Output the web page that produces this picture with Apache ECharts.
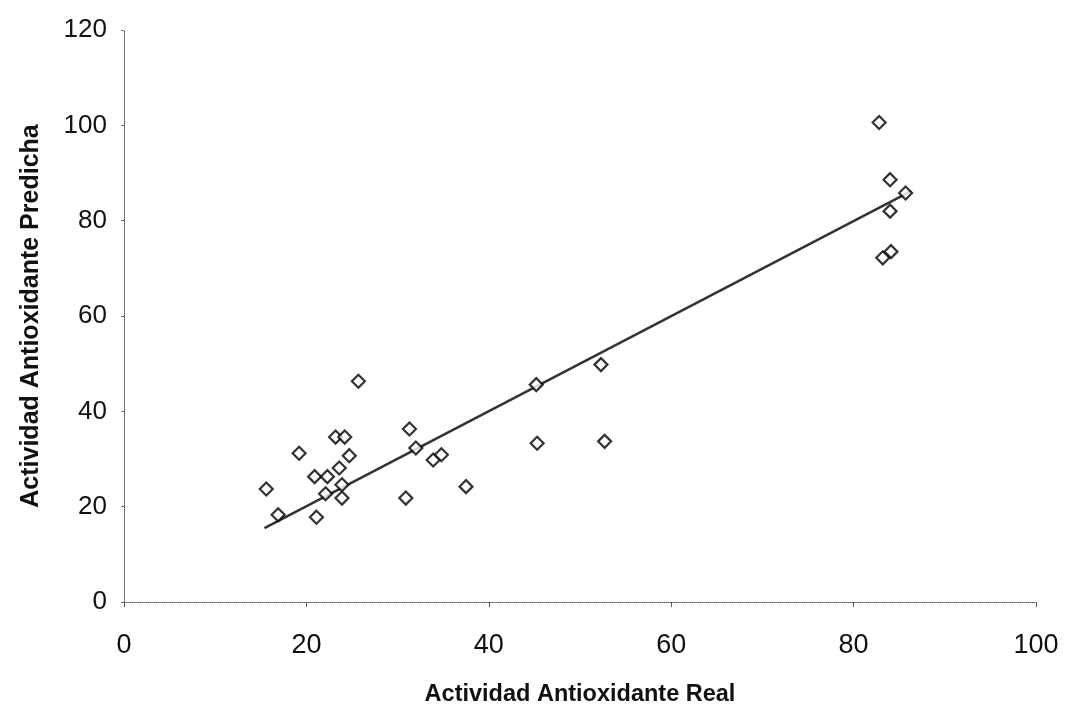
<!DOCTYPE html>
<html>
<head>
<meta charset="utf-8">
<script src="https://cdn.jsdelivr.net/npm/echarts@6/dist/echarts.min.js"></script>
<style>
  html, body { margin: 0; padding: 0; background: #fff; }
  #chart { width: 1068px; height: 708px; }
</style>
</head>
<body>
<div id="chart"></div>
<script>
// valores
var realValues = [25.7, 23.2, 24.2, 31.3, 19.2, 24.7, 33.9, 34.8, 20.9, 22.3,
  23.6, 15.6, 23.9, 23.9, 22.1, 30.9, 16.9, 21.1, 37.5, 45.2,
  45.3, 52.3, 52.7, 82.8, 84.0, 85.7, 84.0, 83.2, 84.1, 32.0]
var predictedValues = [46.3, 34.6, 34.6, 36.3, 31.2, 30.7, 29.8, 30.9, 26.3, 26.3,
  28.1, 23.7, 24.6, 21.8, 22.7, 21.8, 18.3, 17.8, 24.2, 45.6,
  33.3, 49.8, 33.7, 100.6, 88.6, 85.8, 82.0, 72.2, 73.5, 32.3]
var fitX = [15.4, 86.3]
var fitY = [15.5, 86.2]
var xTicks = [0, 20, 40, 60, 80, 100]
var yTicks = [0, 20, 40, 60, 80, 100, 120]

var chart = echarts.init(document.getElementById('chart'))
var font = 'Liberation Sans, Arial, sans-serif'

chart.setOption({
  animation: false,
  backgroundColor: '#fff',
  grid: {
    left: 124,
    right: 32,
    top: 30,
    bottom: 106,
    containLabel: false,
    outerBoundsMode: 'none'
  },
  xAxis: {
    type: 'value',
    min: xTicks[0],
    max: xTicks[xTicks.length - 1],
    interval: 20,
    name: 'Actividad Antioxidante Real',
    nameLocation: 'middle',
    nameGap: 81,
    nameTextStyle: { color: '#111', fontSize: 23.5, fontWeight: 'bold', fontFamily: font },
    axisLine: { lineStyle: { color: '#555', type: 'dotted', width: 1 } },
    axisTick: { show: true, length: 5, lineStyle: { color: '#555' } },
    axisLabel: { color: '#111', fontSize: 27, fontFamily: font, margin: 30 },
    splitLine: { show: false }
  },
  yAxis: {
    type: 'value',
    min: yTicks[0],
    max: yTicks[yTicks.length - 1],
    interval: 20,
    name: 'Actividad Antioxidante Predicha',
    nameLocation: 'middle',
    nameGap: 80,
    nameTextStyle: { color: '#111', fontSize: 25, fontWeight: 'bold', fontFamily: font },
    axisLine: { lineStyle: { color: '#555', type: 'dotted', width: 1 } },
    axisTick: { show: true, length: 3, lineStyle: { color: '#777' } },
    axisLabel: { color: '#111', fontSize: 26, fontFamily: font, margin: 17 },
    splitLine: { show: false }
  },
  series: [
    {
      type: 'line',
      data: fitX.map(function (x, i) { return [x, fitY[i]] }),
      symbol: 'none',
      lineStyle: { color: '#333', width: 2.5 },
      z: 2
    },
    {
      type: 'scatter',
      data: realValues.map(function (x, i) { return [x, predictedValues[i]] }),
      symbol: 'diamond',
      symbolSize: 13,
      itemStyle: { color: '#fff', borderColor: '#000', borderWidth: 2.2 },
      z: 3
    }
  ]
})
</script>
</body>
</html>
